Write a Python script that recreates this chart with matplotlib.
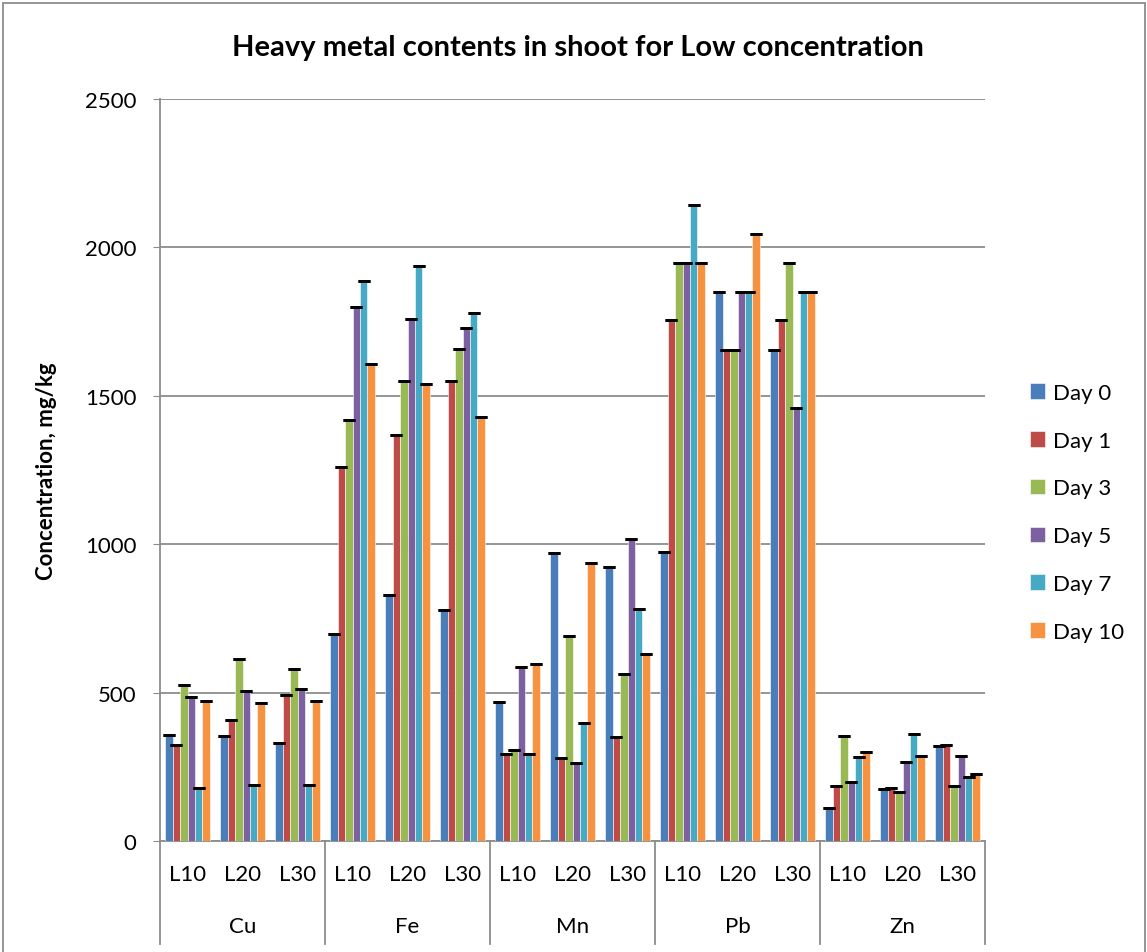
import numpy as np
import matplotlib
matplotlib.use('Agg')
import matplotlib.pyplot as plt
from matplotlib.patches import Rectangle
from matplotlib.lines import Line2D

plt.rcParams['font.family'] = ['Lato', 'DejaVu Sans']

metals = ['Cu', 'Fe', 'Mn', 'Pb', 'Zn']
levels = ['L10', 'L20', 'L30']
days = ['Day 0', 'Day 1', 'Day 3', 'Day 5', 'Day 7', 'Day 10']
colors = ['#4A7EBB', '#BE4B48', '#98B954', '#7D60A0', '#46AAC5', '#F69240']

# one list per day, 15 values in order Cu L10..L30, Fe L10..L30, ...
day0 = [358, 355, 330, 698, 829, 777, 469, 971, 924, 974, 1851, 1655, 112, 175, 319]
day1 = [324, 409, 493, 1259, 1368, 1549, 293, 281, 351, 1755, 1655, 1755, 184, 179, 325]
day3 = [526, 614, 578, 1418, 1549, 1658, 305, 691, 562, 1949, 1655, 1949, 353, 165, 184]
day5 = [484, 506, 512, 1798, 1757, 1727, 585, 263, 1018, 1949, 1851, 1460, 199, 265, 287]
day7 = [177, 190, 189, 1888, 1937, 1778, 293, 399, 782, 2144, 1851, 1851, 282, 359, 214]
day10 = [471, 464, 473, 1608, 1538, 1430, 596, 936, 631, 1949, 2046, 1851, 300, 287, 224]
series = [day0, day1, day3, day5, day7, day10]

fig = plt.figure(figsize=(11.47, 9.53), dpi=100)
ax = fig.add_axes([0.1395, 0.1165, 0.7193, 0.7786])

grid_c = '#8C8C8C'
n = len(metals) * len(levels)
x = np.arange(n)
w = 0.135
for i, (vals, c) in enumerate(zip(series, colors)):
    xi = x + (i - 2.5) * w
    ax.bar(xi, vals, width=w, color=c, edgecolor='white', linewidth=0.4,
           label=days[i], zorder=3)
    ax.errorbar(xi, vals, yerr=np.zeros(n), fmt='none', ecolor='black',
                capsize=4.2, capthick=2, elinewidth=0, zorder=4)

ax.set_xlim(-0.5, n - 0.5)
ax.set_ylim(0, 2500)
ax.set_yticks([0, 500, 1000, 1500, 2000, 2500])
ax.tick_params(axis='y', labelsize=16, length=5, color=grid_c, pad=12)
ax.set_xticks([])
ax.yaxis.grid(True, color=grid_c, linewidth=1.3, zorder=0)
ax.set_axisbelow(True)
for s in ['top', 'right']:
    ax.spines[s].set_visible(False)
for s in ['left', 'bottom']:
    ax.spines[s].set_color(grid_c)
    ax.spines[s].set_linewidth(1.3)

# two-level category axis
tr = ax.get_xaxis_transform()
for k in range(n):
    ax.text(x[k], -0.045, levels[k % 3], transform=tr, ha='center', va='center',
            fontsize=16)
for g, m in enumerate(metals):
    ax.text(g * 3 + 1, -0.115, m, transform=tr, ha='center', va='center', fontsize=16)
for g in range(len(metals) + 1):
    xb = g * 3 - 0.5
    ax.add_line(Line2D([xb, xb], [0, -0.139], transform=tr, color=grid_c,
                       linewidth=1.3, clip_on=False))

ax.set_ylabel('Concentration, mg/kg', fontsize=16, fontweight='bold', labelpad=20)
fig.text(0.504, 0.95, 'Heavy metal contents in shoot for Low concentration',
         ha='center', va='center', fontsize=21, fontweight='bold')

ax.legend(loc='center left', bbox_to_anchor=(1.03, 0.443), frameon=False,
          fontsize=16, handlelength=0.7, handleheight=0.7, labelspacing=1.25,
          handletextpad=0.35)

# outer chart border
fig.add_artist(Rectangle((0.003, -0.05), 0.995, 1.046, transform=fig.transFigure,
                         fill=False, edgecolor=grid_c, linewidth=1.3))

fig.savefig('out.png', dpi=100)
